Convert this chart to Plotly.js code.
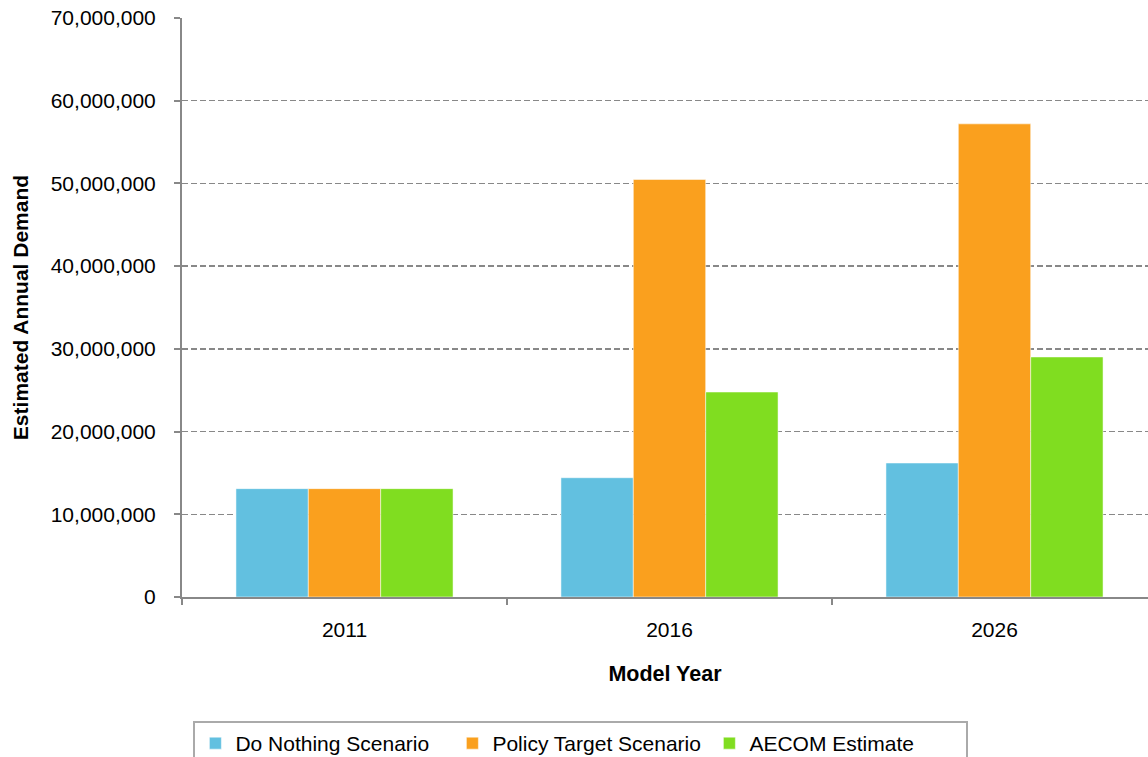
<!DOCTYPE html>
<html>
<head>
<meta charset="utf-8">
<script src="https://cdn.plot.ly/plotly-3.0.1.min.js"></script>
<style>
html, body { margin: 0; padding: 0; background: #fff; }
#chart { width: 1148px; height: 757px; }
</style>
</head>
<body>
<div id="chart"></div>
<script>
const categories = ["2011", "2016", "2026"];
const seriesNames = ["Do Nothing Scenario", "Policy Target Scenario", "AECOM Estimate"];
const doNothing = [13100000, 14420000, 16200000];
const policyTarget = [13100000, 50480000, 57200000];
const aecomEstimate = [13100000, 24780000, 29020000];
const colors = ["#62C0E0", "#FAA01E", "#80DD20"];
const yTickVals = [0, 10000000, 20000000, 30000000, 40000000, 50000000, 60000000, 70000000];

const font = "Liberation Sans, Arial, sans-serif";
const values = [doNothing, policyTarget, aecomEstimate];

const traces = values.map((v, i) => ({
  type: "bar",
  name: seriesNames[i],
  x: categories,
  y: v,
  marker: { color: colors[i], line: { color: "rgba(255,255,255,0.5)", width: 1 } },
  hoverinfo: "x+y+name"
}));

const layout = {
  width: 1148,
  height: 757,
  margin: { l: 182, r: 0, t: 18, b: 160 },
  paper_bgcolor: "#fff",
  plot_bgcolor: "#fff",
  barmode: "group",
  bargap: 0.332,
  bargroupgap: 0,
  font: { family: font, color: "#000", size: 21 },
  xaxis: {
    type: "category",
    range: [-0.5, 2.4723],
    showline: true,
    linecolor: "#888",
    linewidth: 2,
    ticks: "outside",
    tickson: "boundaries",
    ticklen: 6,
    tickwidth: 2,
    tickcolor: "#888",
    showgrid: false,
    tickfont: { family: font, size: 21, color: "#000" },
    ticklabelstandoff: 13,
    title: { text: "Model Year", font: { family: font, size: 21.5, weight: "bold", color: "#000" }, standoff: 26 },
    automargin: false
  },
  yaxis: {
    range: [0, 70000000],
    tickvals: yTickVals,
    tickformat: ",d",
    showline: true,
    linecolor: "#888",
    linewidth: 2,
    ticks: "outside",
    ticklen: 6,
    tickwidth: 2,
    tickcolor: "#888",
    showgrid: true,
    gridcolor: "#888",
    gridwidth: 1.5,
    griddash: "6px,3px",
    zeroline: false,
    tickfont: { family: font, size: 21, color: "#000" },
    ticklabelstandoff: 14,
    title: { text: "Estimated Annual Demand", font: { family: font, size: 21, weight: "bold", color: "#000" }, standoff: 16 },
    automargin: false
  },
  showlegend: true,
  legend: {
    orientation: "h",
    xref: "container",
    yref: "container",
    x: 0.506,
    xanchor: "center",
    y: 1 - 721 / 757,
    yanchor: "top",
    bordercolor: "#aaa",
    borderwidth: 2,
    bgcolor: "#fff",
    entrywidth: 212,
    font: { family: font, size: 21, color: "#000" },
    traceorder: "normal"
  }
};

Plotly.newPlot("chart", traces, layout, { displayModeBar: false, staticPlot: true });
</script>
</body>
</html>
